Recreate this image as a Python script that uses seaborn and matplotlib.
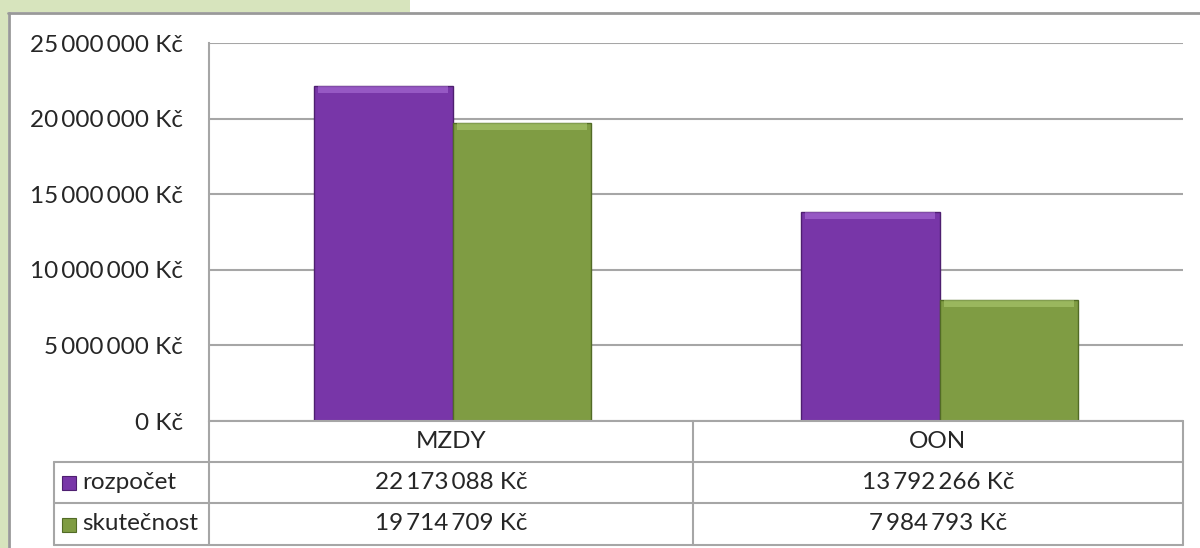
import matplotlib.pyplot as plt
from matplotlib.lines import Line2D
from matplotlib.patches import Rectangle
import seaborn as sns
import pandas as pd

categories = ["MZDY", "OON"]
series = ["rozpočet", "skutečnost"]
rozpocet = [22173088, 13792266]
skutecnost = [19714709, 7984793]
yticks = [0, 5000000, 10000000, 15000000, 20000000, 25000000]

colors = {"rozpočet": "#7836A8", "skutečnost": "#7F9C43"}
tops = {"rozpočet": "#B57AE0", "skutečnost": "#B5D27A"}
edges = {"rozpočet": "#4E1F70", "skutečnost": "#526B26"}
FS = 17.5


def kc(v):
    return f"{v:,.0f}".replace(",", "\u2009") + " Kč"


sns.set_style("white")
plt.rcParams["font.family"] = ["Lato", "DejaVu Sans"]

df = pd.DataFrame({
    "kategorie": categories * 2,
    "serie": [series[0]] * 2 + [series[1]] * 2,
    "hodnota": rozpocet + skutecnost,
})

W, H = 1200, 548
fig = plt.figure(figsize=(12, 5.48), dpi=100)
fig.patch.set_facecolor("white")

# background strips and outer frame
fig.add_artist(Rectangle((0, 1 - 12 / H), 410 / W, 12 / H, transform=fig.transFigure,
                         facecolor="#D7E4BD", edgecolor="none"))
fig.add_artist(Rectangle((0, 0), 8 / W, 1, transform=fig.transFigure,
                         facecolor="#D7E4BD", edgecolor="none"))
fig.add_artist(Line2D([8 / W, 1], [1 - 13 / H, 1 - 13 / H], transform=fig.transFigure,
                      color="#999999", lw=2))
fig.add_artist(Line2D([9 / W, 9 / W], [0, 1 - 13 / H], transform=fig.transFigure,
                      color="#999999", lw=2))

x0, x1, y0, y1 = 209, 1183, 43, 421
ax = fig.add_axes([x0 / W, 1 - y1 / H, (x1 - x0) / W, (y1 - y0) / H])

sns.barplot(data=df, x="kategorie", y="hodnota", hue="serie", order=categories,
            hue_order=series, palette=colors, width=0.57, saturation=1,
            ax=ax, legend=False, zorder=3)

band = 25000000 / 378 * 7
for bars, s in zip(ax.containers, series):
    for p in bars:
        p.set_edgecolor(edges[s])
        p.set_linewidth(1)
        ax.bar(p.get_x() + p.get_width() / 2, band, width=p.get_width() * 0.94,
               bottom=p.get_height() - band, color=tops[s], alpha=0.5,
               zorder=4, linewidth=0)

ax.set_ylim(0, 25000000)
ax.set_xlim(-0.5, 1.5)
ax.set_yticks(yticks)
ax.set_yticklabels([kc(v) for v in yticks], fontsize=FS, color="#262626")
ax.tick_params(axis="y", length=0, pad=18.5)
ax.set_xticks([])
ax.set_xlabel("")
ax.set_ylabel("")
ax.grid(axis="y", color="#A6A6A6", lw=1.5, zorder=0)
for side in ["top", "right", "bottom"]:
    ax.spines[side].set_visible(False)
ax.spines["left"].set_color("#A6A6A6")
ax.spines["left"].set_linewidth(1.5)


# data table below the plot
def fx(px):
    return px / W


def fy(py):
    return 1 - py / H


grid_c = "#A6A6A6"
tx0, tmid, tx1 = 54, 693, 1183
rows = [421, 462, 503, 545]
for py in rows:
    left = x0 if py == rows[0] else tx0
    fig.add_artist(Line2D([fx(left), fx(tx1)], [fy(py), fy(py)],
                          transform=fig.transFigure, color=grid_c, lw=1.5))
fig.add_artist(Line2D([fx(tx0), fx(tx0)], [fy(rows[1]), fy(rows[3])],
                      transform=fig.transFigure, color=grid_c, lw=1.5))
for px in [x0, tmid, tx1]:
    fig.add_artist(Line2D([fx(px), fx(px)], [fy(rows[0]), fy(rows[3])],
                          transform=fig.transFigure, color=grid_c, lw=1.5))

centers = [(x0 + tmid) / 2, (tmid + tx1) / 2]
for c, name in zip(centers, categories):
    fig.text(fx(c), fy((rows[0] + rows[1]) / 2), name, ha="center", va="center",
             fontsize=FS, color="#262626")

for i, (s, vals) in enumerate(zip(series, [rozpocet, skutecnost])):
    cy = (rows[i + 1] + rows[i + 2]) / 2
    fig.add_artist(Rectangle((fx(62), fy(cy + 7.5)), 14 / W, 14 / H,
                             transform=fig.transFigure, facecolor=colors[s],
                             edgecolor=edges[s], lw=0.8))
    fig.text(fx(82), fy(cy), s, ha="left", va="center", fontsize=FS, color="#262626")
    for c, v in zip(centers, vals):
        fig.text(fx(c), fy(cy), kc(v), ha="center", va="center", fontsize=FS,
                 color="#262626")

fig.savefig("out.png", dpi=100)
